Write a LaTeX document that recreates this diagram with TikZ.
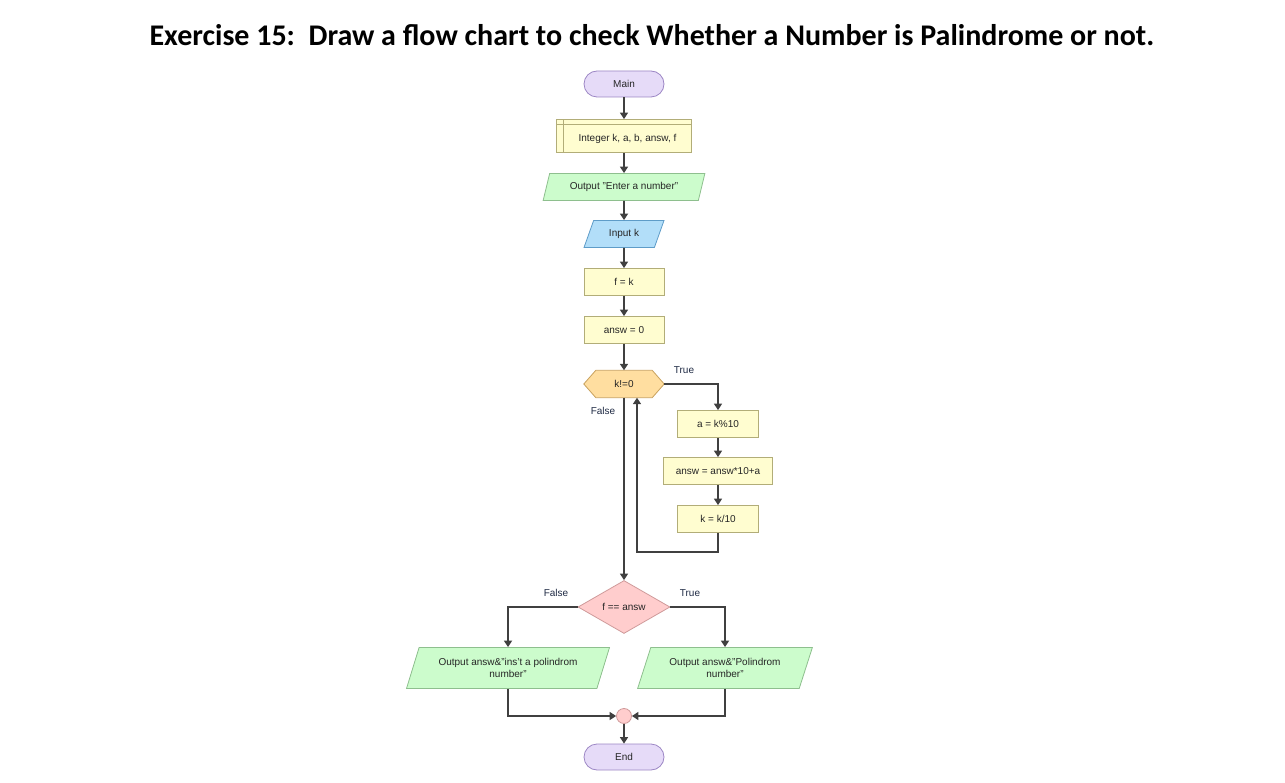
\documentclass[tikz,border=0pt]{standalone}
\usepackage{fontspec}
\setmainfont{Liberation Sans}
\newfontfamily\titlefont{Carlito}
\usetikzlibrary{shapes.geometric,shapes.misc,arrows.meta,backgrounds,calc}
\definecolor{lavfill}{HTML}{E6DBF8}
\definecolor{lavdraw}{HTML}{9C86C4}
\definecolor{yelfill}{HTML}{FFFDD0}
\definecolor{yeldraw}{HTML}{B2AD78}
\definecolor{grnfill}{HTML}{CCFCCC}
\definecolor{grndraw}{HTML}{8EBF8E}
\definecolor{blufill}{HTML}{B2DEF9}
\definecolor{bludraw}{HTML}{5E9CC8}
\definecolor{orgfill}{HTML}{FFDEA0}
\definecolor{orgdraw}{HTML}{C9A25E}
\definecolor{pnkfill}{HTML}{FFCDCD}
\definecolor{pnkdraw}{HTML}{CF9A9A}
\definecolor{conn}{HTML}{404040}
\definecolor{lbl}{HTML}{1F2A44}
\tikzset{
  base/.style={font=\fontsize{10}{12}\selectfont, text=black!85, inner sep=0pt},
  terminal/.style={base, draw=lavdraw, fill=lavfill, rounded corners=13pt, minimum width=80pt, minimum height=26pt, line width=0.8pt},
  procbox/.style={base, draw=yeldraw, fill=yelfill, minimum height=27pt, line width=0.8pt},
  iobox/.style={base, trapezium, trapezium left angle=63, trapezium right angle=117, trapezium stretches=true, minimum height=27pt, line width=0.8pt, align=center},
  outbox/.style={iobox, draw=grndraw, fill=grnfill},
  inbox/.style={iobox, draw=bludraw, fill=blufill},
  decision/.style={base, diamond, draw=pnkdraw, fill=pnkfill, minimum width=92pt, minimum height=53pt, line width=0.8pt},
  joint/.style={circle, draw=pnkdraw, fill=pnkfill, minimum size=15pt, inner sep=0pt, line width=0.8pt},
  lab/.style={font=\fontsize{10}{12}\selectfont, text=lbl, inner sep=0pt},
  arr/.style={draw=conn, line width=1.8pt, -{Triangle[length=6.5pt,width=8pt]}},
}
\begin{document}
\begin{tikzpicture}[x=1pt,y=-1pt]
\useasboundingbox (0,0) rectangle (1285,783);
\node[font=\titlefont\bfseries\fontsize{30}{36}\selectfont, inner sep=0pt] (title) at (652,35) {Exercise 15:\ \ Draw a flow chart to check Whether a Number is Palindrome or not.};

\node[terminal] (main) at (624,84) {Main};
\node[procbox, minimum width=135pt, minimum height=33pt] (decl) at (624,136) {\raisebox{-6pt}[0pt][0pt]{\hspace*{7pt}Integer k, a, b, answ, f}};
\draw[yeldraw, line width=0.8pt] ([xshift=7pt]decl.north west) -- ([xshift=7pt]decl.south west);
\draw[yeldraw, line width=0.8pt] ([yshift=-5pt]decl.north west) -- ([yshift=-5pt]decl.north east);
\node[outbox, minimum width=162pt] (out1) at (624,187) {Output "Enter a number"};
\node[inbox, minimum width=80pt] (inp) at (624,234) {Input k};
\node[procbox, minimum width=80pt] (fk) at (624,282) {f = k};
\node[procbox, minimum width=80pt] (a0) at (624,330) {answ = 0};
\node[base, minimum width=80pt, minimum height=27pt] (hex) at (624,384) {k!=0};
\begin{scope}[on background layer]
\draw[draw=orgdraw, fill=orgfill, line width=0.8pt] (hex.west) -- ([xshift=12pt]hex.north west) -- ([xshift=-12pt]hex.north east) -- (hex.east) -- ([xshift=-12pt]hex.south east) -- ([xshift=12pt]hex.south west) -- cycle;
\end{scope}

\node[procbox, minimum width=81pt] (s1) at (718,424) {a = k\%10};
\node[procbox, minimum width=109pt] (s2) at (718,471) {answ = answ*10+a};
\node[procbox, minimum width=81pt] (s3) at (718,519) {k = k/10};

\node[decision] (dia) at (624,607) {f == answ};
\node[outbox, minimum width=203pt, minimum height=41pt] (outL) at (508,668) {Output answ\&"ins't a polindrom\\number"};
\node[outbox, minimum width=175pt, minimum height=41pt] (outR) at (725,668) {Output answ\&"Polindrom\\number"};
\node[joint] (join) at (624,716) {};
\node[terminal] (end) at (624,757) {End};

\node[lab] (tT) at (684,370) {True};
\node[lab] (tF) at (603,411) {False};
\node[lab] (dF) at (556,593) {False};
\node[lab] (dT) at (690,593) {True};

\draw[arr] (main) -- (decl);
\draw[arr] (decl) -- (out1);
\draw[arr] (out1) -- (inp);
\draw[arr] (inp) -- (fk);
\draw[arr] (fk) -- (a0);
\draw[arr] (a0) -- (hex);
\draw[arr] (hex.east) -| (s1.north);
\draw[arr] (s1) -- (s2);
\draw[arr] (s2) -- (s3);
\coordinate (back) at (637,552);
\draw[arr] (s3.south) |- (back) -- (back |- hex.south);
\draw[arr] (hex.south) -- (dia.north);
\draw[arr] (dia.west) -| (outL.north);
\draw[arr] (dia.east) -| (outR.north);
\draw[arr] (outL.south) |- (join.west);
\draw[arr] (outR.south) |- (join.east);
\draw[arr] (join) -- (end);
\end{tikzpicture}
\end{document}
